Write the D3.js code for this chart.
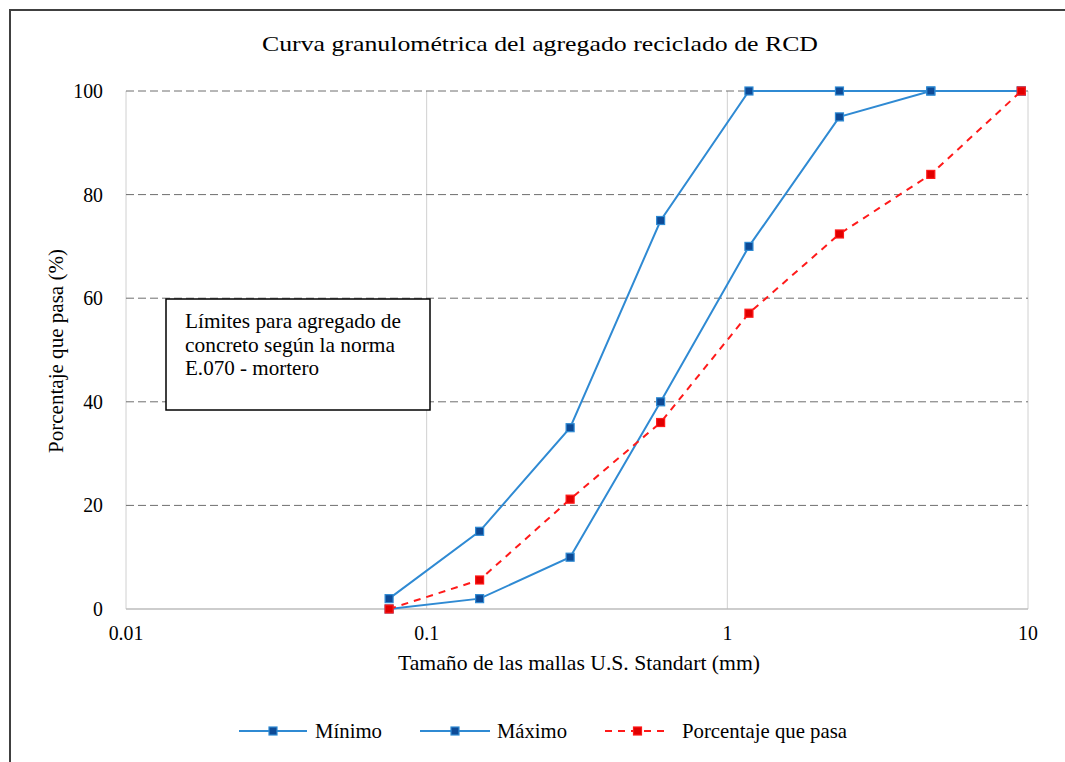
<!DOCTYPE html>
<html>
<head>
<meta charset="utf-8">
<script src="https://cdn.jsdelivr.net/npm/d3@7"></script>
<style>
  body { margin: 0; background: #fff; }
</style>
</head>
<body>
<div id="chart"></div>
<script>
// sieve sizes (mm) and % passing
var sieves = [0.075, 0.15, 0.3, 0.6, 1.18, 2.36, 4.75, 9.5];
var minimo = [0, 2, 10, 40, 70, 95, 100, 100];
var maximo = [2, 15, 35, 75, 100, 100, 100, 100];
var pasa = [0, 5.6, 21.2, 36.0, 57.1, 72.4, 83.9, 100];

var xTicks = [0.01, 0.1, 1, 10];
var yTicks = [0, 20, 40, 60, 80, 100];
var seriesNames = ["Mínimo", "Máximo", "Porcentaje que pasa"];
var noteLines = ["Límites para agregado de", "concreto según la norma", "E.070 - mortero"];

var width = 1065,
    height = 762;

// the serif face only kicks in from 22px here, so every label uses 22px
var serif = "'Liberation Serif', 'Times New Roman', serif";
var fs = 22;

var blue = "#2f8ad3",
    markBlue = "#0d4a96",
    red = "#ff1a1a";

var svg = d3.select("#chart").append("svg")
    .attr("width", width).attr("height", height);

// text helper: widths are pinned with textLength (source picture is stretched)
function label(g, str, xPos, yPos, len, anchor, rot) {
    var holder = g.append("g")
        .attr("transform", "translate(" + xPos + "," + yPos + ")" + (rot ? " rotate(" + rot + ")" : ""));
    var t = holder.append("text")
        .attr("text-anchor", anchor || "start")
        .style("font-family", serif)
        .style("font-size", fs + "px")
        .style("fill", "#000")
        .text(str);
    if (len) t.attr("textLength", len).attr("lengthAdjust", "spacingAndGlyphs");
    return t;
}

// outer frame
svg.append("rect")
    .attr("x", 10).attr("y", 10)
    .attr("width", width + 20).attr("height", height + 20)
    .attr("fill", "none")
    .attr("stroke", "#404040")
    .attr("stroke-width", 2);

var x = d3.scaleLog().domain([0.01, 10]).range([126, 1028]);
var y = d3.scaleLinear().domain([0, 100]).range([609, 91]);

// vertical grid
svg.append("g").selectAll("line")
    .data(xTicks)
    .join("line")
    .attr("x1", d => x(d)).attr("x2", d => x(d))
    .attr("y1", y(0)).attr("y2", y(100))
    .attr("stroke", "#d0d0d0")
    .attr("stroke-width", 1);

// horizontal grid (dashed)
svg.append("g").selectAll("line")
    .data(yTicks.filter(d => d > 0))
    .join("line")
    .attr("x1", x(0.01)).attr("x2", x(10))
    .attr("y1", d => y(d)).attr("y2", d => y(d))
    .attr("stroke", "#6e6e6e")
    .attr("stroke-width", 1)
    .attr("stroke-dasharray", "8,4");

// x axis line
svg.append("line")
    .attr("x1", x(0.01)).attr("x2", x(10))
    .attr("y1", y(0)).attr("y2", y(0))
    .attr("stroke", "#bdbdbd")
    .attr("stroke-width", 1.5);

// tick labels, squeezed a little to the reference width
function squeeze(t) {
    var w = t.node().getComputedTextLength();
    t.attr("textLength", w * 0.9).attr("lengthAdjust", "spacingAndGlyphs");
}
var yLab = svg.append("g");
yTicks.forEach(function (d) {
    squeeze(label(yLab, d, 103, y(d) + 7, null, "end"));
});
var xLab = svg.append("g");
xTicks.forEach(function (d) {
    squeeze(label(xLab, d, x(d), 640, null, "middle"));
});

// titles
label(svg, "Curva granulométrica del agregado reciclado de RCD", 540, 51, 556, "middle");
label(svg, "Tamaño de las mallas U.S. Standart (mm)", 579, 670, 362, "middle");
label(svg, "Porcentaje que pasa (%)", 63, 351, 204, "middle", -90);

// note box
svg.append("rect")
    .attr("x", 166).attr("y", 299)
    .attr("width", 264).attr("height", 111)
    .attr("fill", "#fff")
    .attr("stroke", "#000")
    .attr("stroke-width", 1.5);

var noteLen = [216, 210, 134];
var note = svg.append("g");
noteLines.forEach(function (d, i) {
    label(note, d, 185, 328 + i * 23.5, noteLen[i]);
});

// series
var line = d3.line()
    .x(d => x(d[0]))
    .y(d => y(d[1]));

var series = [
    {name: seriesNames[0], values: minimo, color: blue, mark: markBlue, dash: null},
    {name: seriesNames[1], values: maximo, color: blue, mark: markBlue, dash: null},
    {name: seriesNames[2], values: pasa, color: red, mark: "#e00000", dash: "7,6"}
];

series.forEach(function (s) {
    var pts = sieves.map((d, i) => [d, s.values[i]]);
    svg.append("path")
        .datum(pts)
        .attr("fill", "none")
        .attr("stroke", s.color)
        .attr("stroke-width", 2)
        .attr("stroke-dasharray", s.dash)
        .attr("d", line);

    svg.append("g").selectAll("rect")
        .data(pts)
        .join("rect")
        .attr("x", d => x(d[0]) - 4)
        .attr("y", d => y(d[1]) - 4)
        .attr("width", 8).attr("height", 8)
        .attr("fill", s.mark)
        .attr("stroke", s.color)
        .attr("stroke-width", 1.2);
});

// legend
var legendPos = [
    {x1: 239, x2: 307, tx: 315, len: 67},
    {x1: 420, x2: 490, tx: 497, len: 70},
    {x1: 605, x2: 670, tx: 682, len: 165}
];
var ly = 731;
series.forEach(function (s, i) {
    var p = legendPos[i];
    var g = svg.append("g");
    g.append("line")
        .attr("x1", p.x1).attr("x2", p.x2)
        .attr("y1", ly).attr("y2", ly)
        .attr("stroke", s.color)
        .attr("stroke-width", 2)
        .attr("stroke-dasharray", s.dash);
    g.append("rect")
        .attr("x", (p.x1 + p.x2) / 2 - 4).attr("y", ly - 4)
        .attr("width", 8).attr("height", 8)
        .attr("fill", s.mark)
        .attr("stroke", s.color)
        .attr("stroke-width", 1.2);
    label(g, s.name, p.tx, ly + 7, p.len);
});
</script>
</body>
</html>
